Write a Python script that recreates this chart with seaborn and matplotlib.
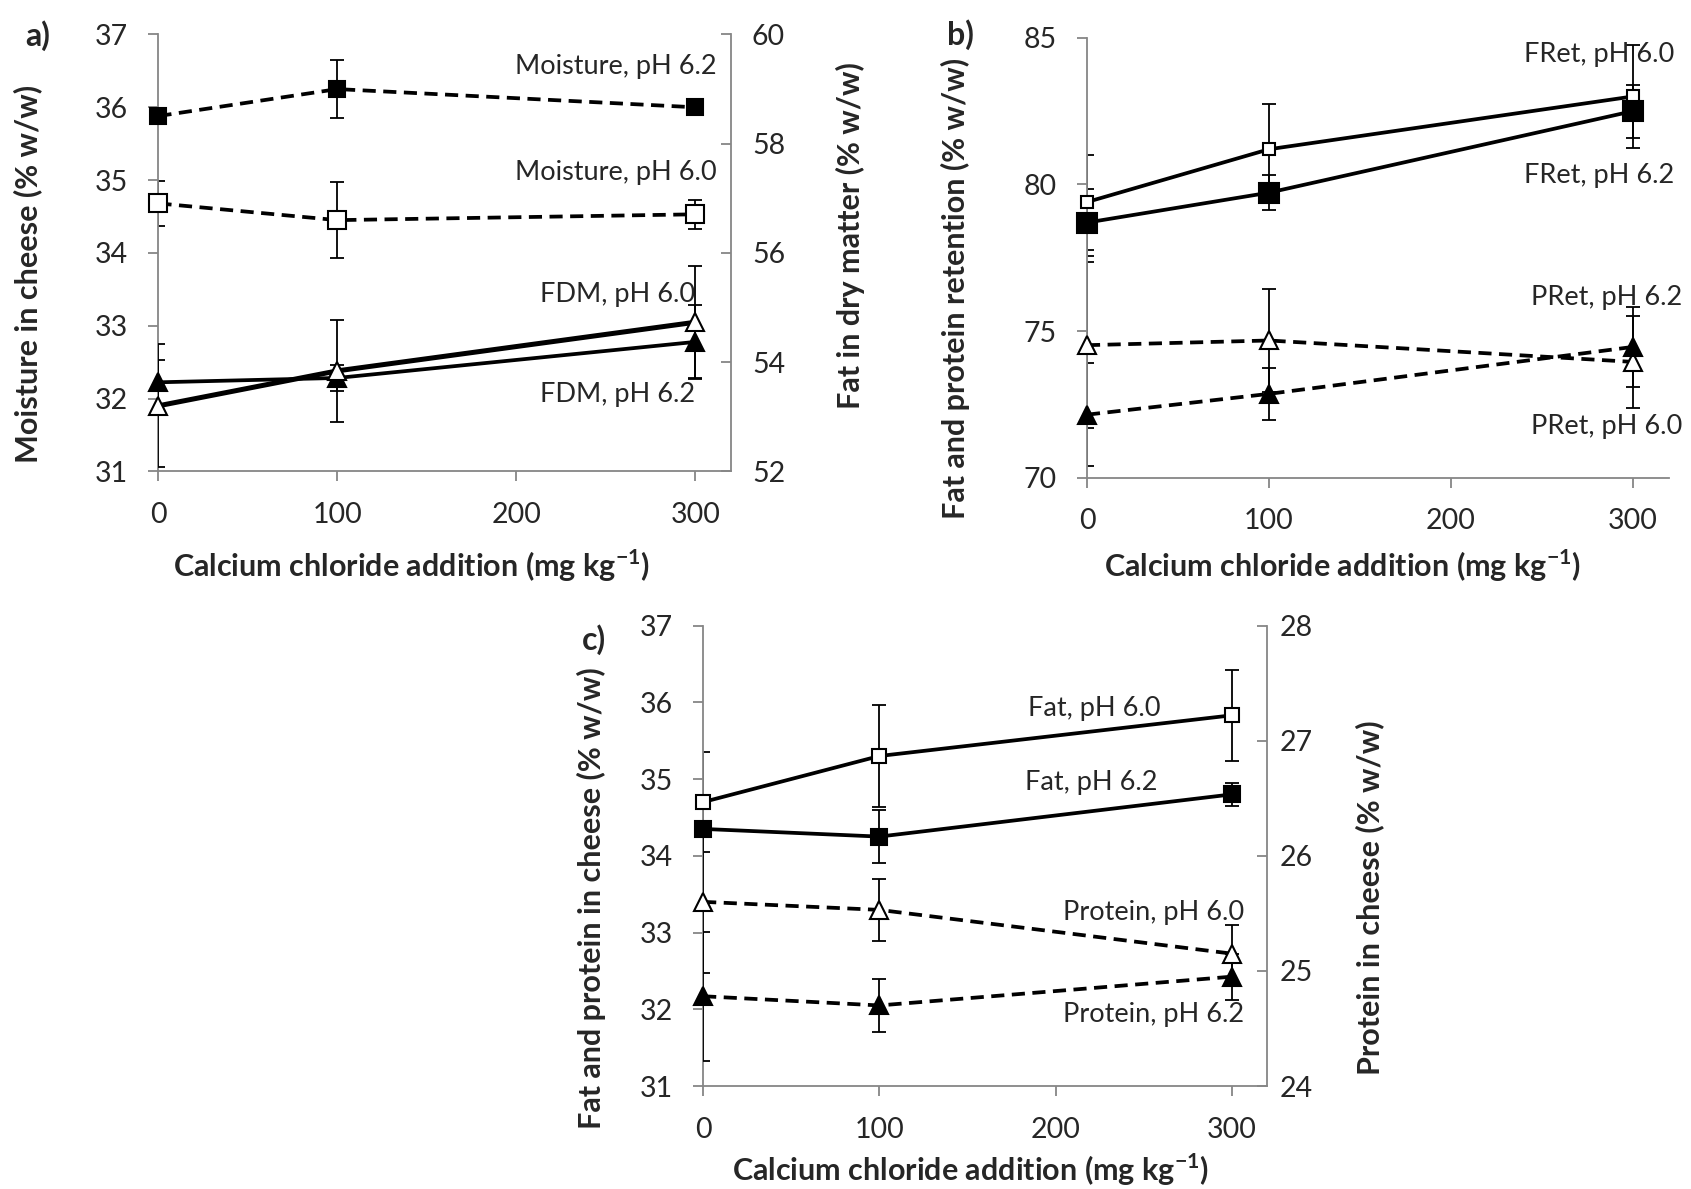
import matplotlib
matplotlib.use('Agg')
import matplotlib.pyplot as plt
from matplotlib import font_manager
import pandas as pd
import seaborn as sns

# CaCl2 addition (mg/kg)
dose = [0, 100, 300]

# a) moisture (left axis) and fat in dry matter (right axis)
moist_62 = [35.88, 36.25, 36.0]
moist_62_sd = [0.05, 0.4, 0.05]
moist_60 = [34.68, 34.45, 34.53]
moist_60_sd = [0.31, 0.52, 0.2]
fdm_60 = [53.2, 53.84, 54.73]
fdm_60_sd = [1.13, 0.93, 1.03]
fdm_62 = [53.63, 53.71, 54.37]
fdm_62_sd = [0.4, 0.23, 0.68]

# b) fat and protein retention
fret_60 = [79.4, 81.2, 83.0]
fret_60_sd = [1.62, 1.55, 1.77]
fret_62 = [78.7, 79.72, 82.5]
fret_62_sd = [1.13, 0.6, 0.9]
pret_60 = [74.52, 74.68, 73.95]
pret_60_sd = [2.83, 1.77, 1.58]
pret_62 = [72.15, 72.86, 74.46]
pret_62_sd = [1.75, 0.88, 1.36]

# c) fat (left axis) and protein (right axis) in cheese
fat_60 = [34.7, 35.3, 35.83]
fat_60_sd = [0.65, 0.67, 0.59]
fat_62 = [34.35, 34.25, 34.8]
fat_62_sd = [0.1, 0.35, 0.15]
prot_60 = [25.6, 25.53, 25.15]
prot_60_sd = [0.62, 0.27, 0.25]
prot_62 = [24.78, 24.7, 24.95]
prot_62_sd = [0.56, 0.23, 0.2]

GRAY = '#868686'
TICK = 20.5
NOTE = 19.5
LAB = 22

sns.set_style('ticks')
names = {f.name for f in font_manager.fontManager.ttflist}
FONT = 'Liberation Sans Narrow' if 'Liberation Sans Narrow' in names else 'Lato'
plt.rcParams['font.family'] = [FONT, 'DejaVu Sans']
plt.rcParams['mathtext.fontset'] = 'custom'
plt.rcParams['mathtext.rm'] = FONT
plt.rcParams['mathtext.bf'] = FONT + ':bold'


def style(ax, ylim, yticks, side='left', pad=15):
    for s in ax.spines:
        ax.spines[s].set_visible(False)
    ax.spines[side].set_visible(True)
    ax.spines[side].set_color(GRAY)
    ax.spines[side].set_linewidth(1.3)
    ax.set_ylim(*ylim)
    ax.set_yticks(yticks)
    ax.set_ylabel('')
    ax.set_xlabel('')
    if side == 'left':
        ax.spines['bottom'].set_visible(True)
        ax.spines['bottom'].set_color(GRAY)
        ax.spines['bottom'].set_linewidth(1.3)
        ax.set_xlim(0, 320)
        ax.set_xticks([0, 100, 200, 300])
        ax.tick_params(axis='x', direction='out', length=7, width=1.3, color=GRAY,
                       labelsize=TICK, pad=15)
        ax.tick_params(axis='y', direction='out', length=7, width=1.3, color=GRAY,
                       labelsize=TICK, pad=pad)
    else:
        ax.tick_params(axis='y', direction='in', length=7, width=1.3, color=GRAY,
                       labelsize=TICK, pad=pad, right=True, left=False,
                       labelright=True, labelleft=False)


def series(ax, y, sd, marker, filled, dashed, ms, lw=2.7):
    ax.errorbar(dose, y, yerr=sd, fmt='none', ecolor='black', elinewidth=1.3,
                capsize=5, capthick=1.3, zorder=2)
    df = pd.DataFrame({'dose': dose, 'y': y})
    sns.lineplot(data=df, x='dose', y='y', ax=ax, color='black', lw=lw,
                 linestyle=(0, (3.5, 2)) if dashed else '-',
                 marker=marker, markersize=ms,
                 markerfacecolor='black' if filled else 'white',
                 markeredgecolor='black', markeredgewidth=1.5,
                 errorbar=None, clip_on=False, zorder=3)


fig = plt.figure(figsize=(16.91, 11.89), dpi=100)

# ---- a) ----
ax_a = fig.add_axes([0.0937, 0.6036, 0.3386, 0.3674])
ax_a2 = ax_a.twinx()
series(ax_a, moist_62, moist_62_sd, 's', True, True, 12)
series(ax_a, moist_60, moist_60_sd, 's', False, True, 13)
series(ax_a2, fdm_62, fdm_62_sd, '^', True, False, 13)
series(ax_a2, fdm_60, fdm_60_sd, '^', False, False, 13, lw=3.6)
style(ax_a, (31, 37), range(31, 38))
style(ax_a2, (52, 60), range(52, 61, 2), side='right', pad=15)
ax_a.text(312, 36.56, 'Moisture, pH 6.2', ha='right', va='center', fontsize=NOTE)
ax_a.text(312, 35.10, 'Moisture, pH 6.0', ha='right', va='center', fontsize=NOTE)
ax_a.text(300, 33.43, 'FDM, pH 6.0', ha='right', va='center', fontsize=NOTE)
ax_a.text(300, 32.05, 'FDM, pH 6.2', ha='right', va='center', fontsize=NOTE)

# ---- b) ----
ax_b = fig.add_axes([0.6428, 0.5982, 0.3443, 0.3700])
series(ax_b, fret_60, fret_60_sd, 's', False, False, 9)
series(ax_b, fret_62, fret_62_sd, 's', True, False, 14)
series(ax_b, pret_60, pret_60_sd, '^', False, True, 13.5)
series(ax_b, pret_62, pret_62_sd, '^', True, True, 13.5)
style(ax_b, (70, 85), [70, 75, 80, 85])
ax_b.text(323, 84.43, 'FRet, pH 6.0', ha='right', va='center', fontsize=NOTE)
ax_b.text(323, 80.29, 'FRet, pH 6.2', ha='right', va='center', fontsize=NOTE)
ax_b.text(327, 76.14, 'PRet, pH 6.2', ha='right', va='center', fontsize=NOTE)
ax_b.text(327, 71.76, 'PRet, pH 6.0', ha='right', va='center', fontsize=NOTE)

# ---- c) ----
ax_c = fig.add_axes([0.4158, 0.0866, 0.3335, 0.3873])
ax_c2 = ax_c.twinx()
series(ax_c, fat_60, fat_60_sd, 's', False, False, 10)
series(ax_c, fat_62, fat_62_sd, 's', True, False, 12)
series(ax_c2, prot_60, prot_60_sd, '^', False, True, 13.5)
series(ax_c2, prot_62, prot_62_sd, '^', True, True, 13.5)
style(ax_c, (31, 37), range(31, 38))
style(ax_c2, (24, 28), range(24, 29), side='right', pad=9)
ax_c.text(259.7, 35.92, 'Fat, pH 6.0', ha='right', va='center', fontsize=NOTE)
ax_c.text(257.9, 34.96, 'Fat, pH 6.2', ha='right', va='center', fontsize=NOTE)
ax_c.text(307, 33.26, 'Protein, pH 6.0', ha='right', va='center', fontsize=NOTE)
ax_c.text(307, 31.93, 'Protein, pH 6.2', ha='right', va='center', fontsize=NOTE)

# axis titles and panel letters
xlab = r'Calcium chloride addition (mg kg$^{\mathbf{-1}}$)'
bold = dict(fontsize=LAB, fontweight='bold', ha='center', va='center')
fig.text(0.0166, 0.770, 'Moisture in cheese (% w/w)', rotation=90, **bold)
fig.text(0.5027, 0.802, 'Fat in dry matter (% w/w)', rotation=90, **bold)
fig.text(0.2436, 0.524, xlab, **bold)
fig.text(0.5650, 0.757, 'Fat and protein retention (% w/w)', rotation=90, **bold)
fig.text(0.794, 0.524, xlab, **bold)
fig.text(0.350, 0.245, 'Fat and protein in cheese (% w/w)', rotation=90, **bold)
fig.text(0.810, 0.2454, 'Protein in cheese (% w/w)', rotation=90, **bold)
fig.text(0.574, 0.016, xlab, **bold)
fig.text(0.0222, 0.970, 'a)', fontsize=23, fontweight='bold', ha='center', va='center')
fig.text(0.5677, 0.971, 'b)', fontsize=23, fontweight='bold', ha='center', va='center')
fig.text(0.3514, 0.4620, 'c)', fontsize=23, fontweight='bold', ha='center', va='center')

fig.savefig('out.png', dpi=100)
